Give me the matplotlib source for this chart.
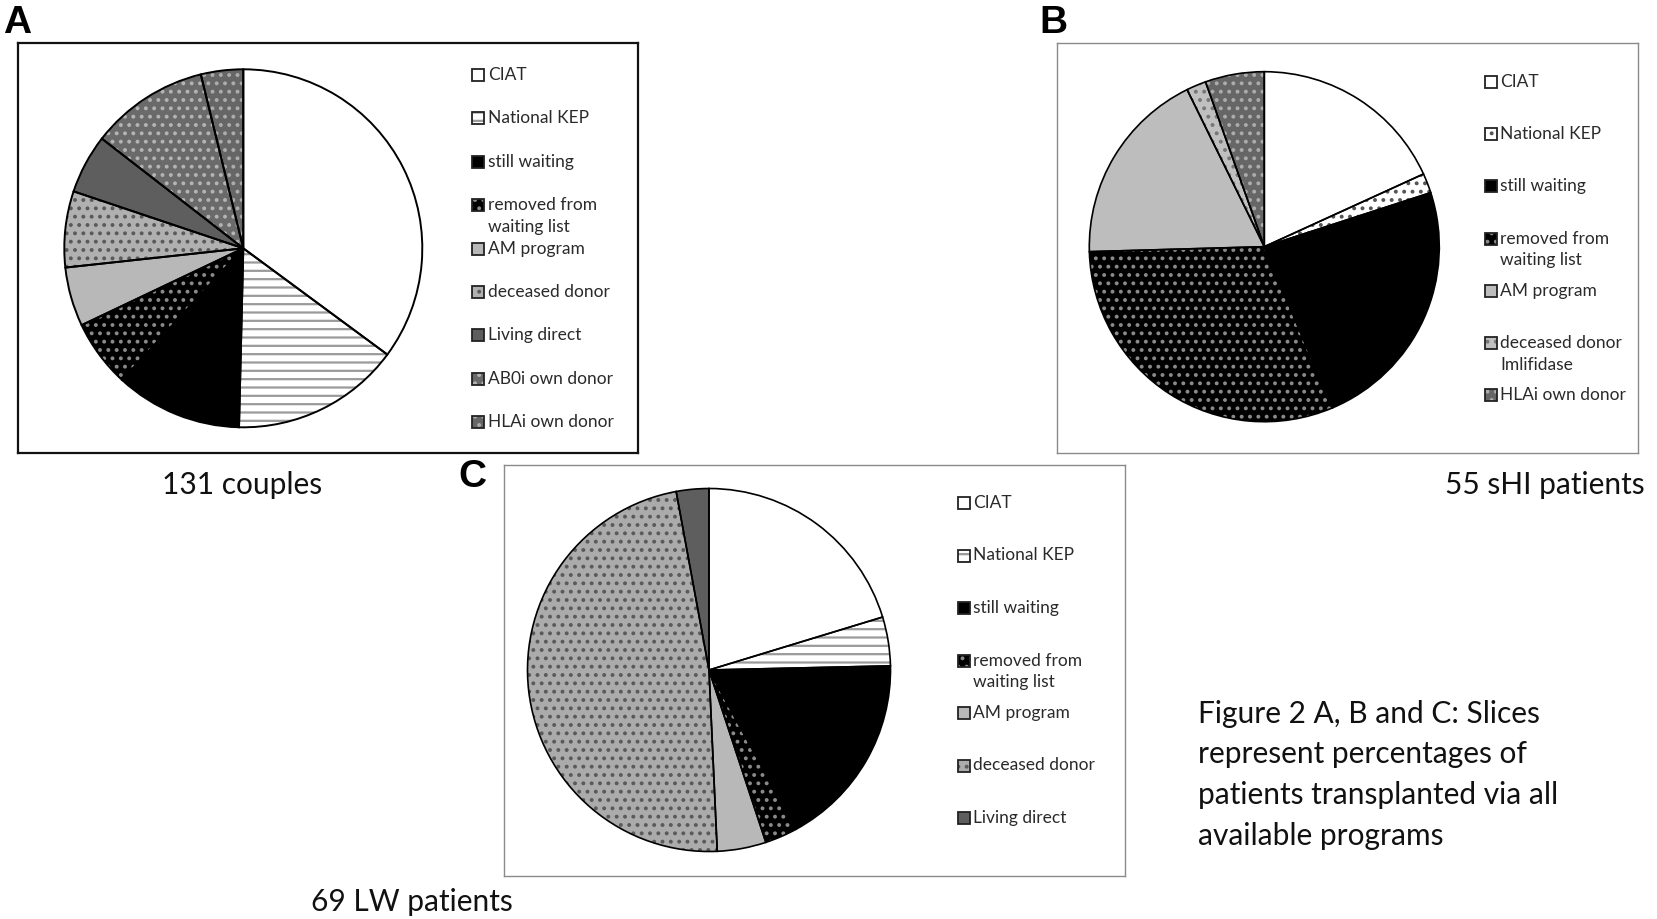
import matplotlib
matplotlib.use('Agg')
import matplotlib.pyplot as plt
from matplotlib import patches

#================================================================================================================================================
# Data (counts of patients, clockwise from 12 o'clock)
labelsA = ['CIAT', 'National KEP', 'still waiting', 'removed from\nwaiting list', 'AM program',
           'deceased donor', 'Living direct', 'AB0i own donor', 'HLAi own donor']
countsA = [46, 20, 15, 8, 7, 9, 7, 14, 5]

labelsB = ['CIAT', 'National KEP', 'still waiting', 'removed from\nwaiting list', 'AM program',
           'deceased donor\nImlifidase', 'HLAi own donor']
countsB = [10, 1, 13, 17, 10, 1, 3]

labelsC = ['CIAT', 'National KEP', 'still waiting', 'removed from\nwaiting list', 'AM program',
           'deceased donor', 'Living direct']
countsC = [14, 3, 12, 2, 3, 33, 2]

captionA = '131 couples'
captionB = '55 sHI patients'
captionC = '69 LW patients'
figureCaption = ['Figure 2 A, B and C: Slices', 'represent percentages of',
                 'patients transplanted via all', 'available programs']

# (face colour, hatch, hatch colour) per slice
stylesA = [('white', '', None), ('white', '--', '#9a9a9a'), ('black', '', None),
           ('black', '..', '#8a8a8a'), ('#b8b8b8', '', None), ('#b0b0b0', '..', '#5a5a5a'),
           ('#5e5e5e', '', None), ('#6a6a6a', '..', '#b4b4b4'), ('#666666', '..', '#acacac')]
stylesB = [('white', '', None), ('white', '..', '#555555'), ('black', '', None),
           ('black', '..', '#8a8a8a'), ('#bdbdbd', '', None), ('#c0c0c0', '..', '#777777'),
           ('#666666', '..', '#acacac')]
stylesC = [('white', '', None), ('white', '--', '#9a9a9a'), ('black', '', None),
           ('black', '..', '#8a8a8a'), ('#b8b8b8', '', None), ('#ababab', '..', '#5a5a5a'),
           ('#5e5e5e', '', None)]

W, H = 1657, 919
TEXT_FONT = ['Lato', 'DejaVu Sans']
LETTER_FONT = ['Liberation Sans', 'DejaVu Sans']

plt.rcParams['hatch.linewidth'] = 1.6


#================================================================================================================================================
def fx(px):
    return px / W


def fy(py):
    return 1 - py / H


def addBox(fig, left, top, right, bottom, color, lw):
    ax = fig.add_axes([fx(left), fy(bottom), (right - left) / W, (bottom - top) / H])
    ax.set_xticks([])
    ax.set_yticks([])
    for spine in ax.spines.values():
        spine.set_color(color)
        spine.set_linewidth(lw)
    return ax


def drawPie(fig, counts, styles, cx, cy, r, edgeWidth):
    pad = 1.03
    size = 2 * r * pad
    ax = fig.add_axes([fx(cx - size / 2), fy(cy + size / 2), size / W, size / H])
    # first pass: fills and patterns (hatch takes the edge colour, so no edge line here)
    wedges, _ = ax.pie(counts, colors=[s[0] for s in styles], startangle=90, counterclock=False,
                       wedgeprops=dict(linewidth=0))
    for wedge, style in zip(wedges, styles):
        if style[1]:
            wedge.set_hatch(style[1])
            wedge.set_edgecolor(style[2])
    # second pass: black outlines
    ax.pie(counts, colors=['none'] * len(counts), startangle=90, counterclock=False,
           wedgeprops=dict(edgecolor='black', linewidth=edgeWidth, fill=False))
    ax.set_xlim(-pad, pad)
    ax.set_ylim(-pad, pad)
    return ax


def drawLegend(fig, labels, styles, sqX, textX, y0, step):
    sq = 12
    for i, (label, style) in enumerate(zip(labels, styles)):
        y = y0 + i * step
        fill = patches.Rectangle((fx(sqX), fy(y + sq / 2)), sq / W, sq / H, transform=fig.transFigure,
                                 facecolor=style[0], linewidth=0)
        if style[1]:
            fill.set_hatch(style[1])
            fill.set_edgecolor(style[2])
        fig.add_artist(fill)
        fig.add_artist(patches.Rectangle((fx(sqX), fy(y + sq / 2)), sq / W, sq / H, transform=fig.transFigure,
                                         fill=False, edgecolor='#222222', linewidth=1.3))
        for j, line in enumerate(label.split('\n')):
            fig.text(fx(textX), fy(y + j * 21.5), line, va='center', ha='left', fontsize=12.5,
                     color='#2a2a2a', family=TEXT_FONT)


#================================================================================================================================================
def main():
    fig = plt.figure(figsize=(W / 100, H / 100), dpi=100)

    # panel frames
    addBox(fig, 18, 43, 638, 453, '#111111', 1.6)
    addBox(fig, 1057, 43, 1638, 453, '#8a8a8a', 1.0)
    addBox(fig, 504, 465, 1125, 876, '#8a8a8a', 1.0)

    # pies
    drawPie(fig, countsA, stylesA, 243.3, 248.3, 179, 1.4)
    drawPie(fig, countsB, stylesB, 1264.3, 246.7, 175, 1.2)
    drawPie(fig, countsC, stylesC, 709, 670, 181.5, 1.2)

    # legends
    drawLegend(fig, labelsA, stylesA, 472, 488, 75, 43.4)
    drawLegend(fig, labelsB, stylesB, 1485, 1500, 82, 52.2)
    drawLegend(fig, labelsC, stylesC, 958, 973, 503, 52.5)

    # panel letters
    fig.text(fx(3), fy(33), 'A', fontsize=28, fontweight='bold', family=LETTER_FONT, va='baseline')
    fig.text(fx(1039), fy(33), 'B', fontsize=28, fontweight='bold', family=LETTER_FONT, va='baseline')
    fig.text(fx(458), fy(487), 'C', fontsize=28, fontweight='bold', family=LETTER_FONT, va='baseline')

    # captions
    fig.text(fx(162), fy(494), captionA, fontsize=21.5, family=TEXT_FONT, va='baseline', color='#111111')
    fig.text(fx(1445), fy(494), captionB, fontsize=21.5, family=TEXT_FONT, va='baseline', color='#111111')
    fig.text(fx(311), fy(911), captionC, fontsize=21.5, family=TEXT_FONT, va='baseline', color='#111111')
    for i, line in enumerate(figureCaption):
        fig.text(fx(1198), fy(723 + i * 40.5), line, fontsize=21.5, family=TEXT_FONT, va='baseline',
                 color='#111111')

    fig.savefig('out.png', dpi=100)


if __name__ == "__main__":
    main()
